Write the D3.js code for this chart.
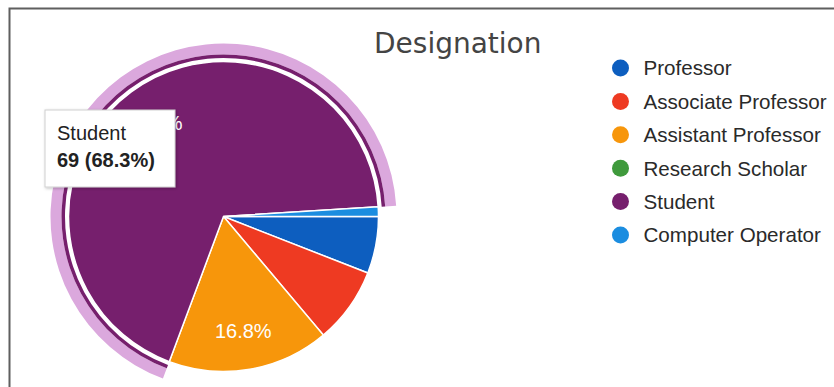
<!DOCTYPE html>
<html>
<head>
<meta charset="utf-8">
<script src="https://cdn.jsdelivr.net/npm/d3@7/dist/d3.min.js"></script>
<style>
  html, body { margin: 0; padding: 0; background: #fff; }
  svg { display: block; }
</style>
</head>
<body>
<svg id="chart" width="834" height="387"></svg>
<script>
// Respondents by designation
const categories = ["Professor", "Associate Professor", "Assistant Professor", "Research Scholar", "Student", "Computer Operator"];
const values = [6, 8, 17, 0, 69, 1];
const colors = ["#0d5ebf", "#ee3a22", "#f7960b", "#3f9a3c", "#761f6d", "#1b8de0"];
const title = "Designation";
const highlighted = "Student";

const svg = d3.select("#chart");
const W = 834, H = 387;
const cx = 223.5, cy = 216.5, R = 155;
const total = d3.sum(values);

// frame
svg.append("path")
  .attr("d", `M9.5,${H + 2} L9.5,8.5 L${W + 2},8.5`)
  .attr("fill", "none")
  .attr("stroke", "#5f5f5f")
  .attr("stroke-width", 2);

const data = categories.map((c, i) => ({ name: c, value: values[i], color: colors[i] }));

const pie = d3.pie()
  .sort(null)
  .value(d => d.value)
  .startAngle(Math.PI / 2)
  .endAngle(Math.PI / 2 + 2 * Math.PI);

const arcs = pie(data);
const arc = d3.arc().innerRadius(0).outerRadius(R);

const g = svg.append("g").attr("transform", `translate(${cx},${cy})`);

// hover / selection rings around the highlighted slice
const hi = arcs.find(a => a.data.name === highlighted);
g.append("path")
  .attr("d", d3.arc().innerRadius(R + 7).outerRadius(R + 18)(hi))
  .attr("fill", "#dba8dd");
g.append("path")
  .attr("d", d3.arc().innerRadius(R + 3.5).outerRadius(R + 7)(hi))
  .attr("fill", hi.data.color);

// slices
g.selectAll("path.slice")
  .data(arcs.filter(a => a.data.value > 0))
  .join("path")
  .attr("class", "slice")
  .attr("d", arc)
  .attr("fill", d => d.data.color)
  .attr("stroke", "#fff")
  .attr("stroke-width", 1.5);

// percentage labels on the larger slices
const labelArc = d3.arc().innerRadius(R * 0.75).outerRadius(R * 0.75);
g.selectAll("text.pct")
  .data(arcs.filter(a => a.data.value / total > 0.1))
  .join("text")
  .attr("class", "pct")
  .attr("transform", d => `translate(${labelArc.centroid(d)})`)
  .attr("text-anchor", "middle")
  .attr("dy", "0.36em")
  .attr("fill", "#fff")
  .style("font-family", "Arial, 'Liberation Sans', sans-serif")
  .style("font-size", "20px")
  .text(d => (d.value / total * 100).toFixed(1) + "%");

// title
svg.append("text")
  .attr("x", 374)
  .attr("y", 53)
  .attr("fill", "#444")
  .style("font-family", "'DejaVu Sans', Verdana, sans-serif")
  .style("font-size", "28px")
  .text(title);

// legend
const legend = svg.append("g");
const rowY = d3.scalePoint().domain(categories).range([68, 235]);
const rows = legend.selectAll("g")
  .data(data)
  .join("g")
  .attr("transform", d => `translate(620.5,${rowY(d.name)})`);
rows.append("circle")
  .attr("r", 8.5)
  .attr("fill", d => d.color);
rows.append("text")
  .attr("x", 23)
  .attr("dy", "0.36em")
  .attr("fill", "#2a2a2a")
  .style("font-family", "Arial, 'Liberation Sans', sans-serif")
  .style("font-size", "20.6px")
  .text(d => d.name);

// tooltip for the highlighted slice
const defs = svg.append("defs");
const f = defs.append("filter").attr("id", "shadow").attr("x", "-20%").attr("y", "-20%").attr("width", "140%").attr("height", "140%");
f.append("feDropShadow").attr("dx", 1).attr("dy", 1).attr("stdDeviation", 1.5).attr("flood-color", "#000").attr("flood-opacity", 0.25);

const tip = svg.append("g").attr("transform", "translate(45,110)");
tip.append("rect")
  .attr("width", 130)
  .attr("height", 77)
  .attr("fill", "#fff")
  .attr("stroke", "#d0d0d0")
  .attr("stroke-width", 1)
  .attr("filter", "url(#shadow)");
tip.append("text")
  .attr("x", 12)
  .attr("y", 30)
  .attr("fill", "#222")
  .style("font-family", "Arial, 'Liberation Sans', sans-serif")
  .style("font-size", "20px")
  .text(hi.data.name);
tip.append("text")
  .attr("x", 12)
  .attr("y", 57)
  .attr("fill", "#222")
  .style("font-family", "Arial, 'Liberation Sans', sans-serif")
  .style("font-size", "20px")
  .style("font-weight", "bold")
  .text(`${hi.data.value} (${(hi.data.value / total * 100).toFixed(1)}%)`);
</script>
</body>
</html>
